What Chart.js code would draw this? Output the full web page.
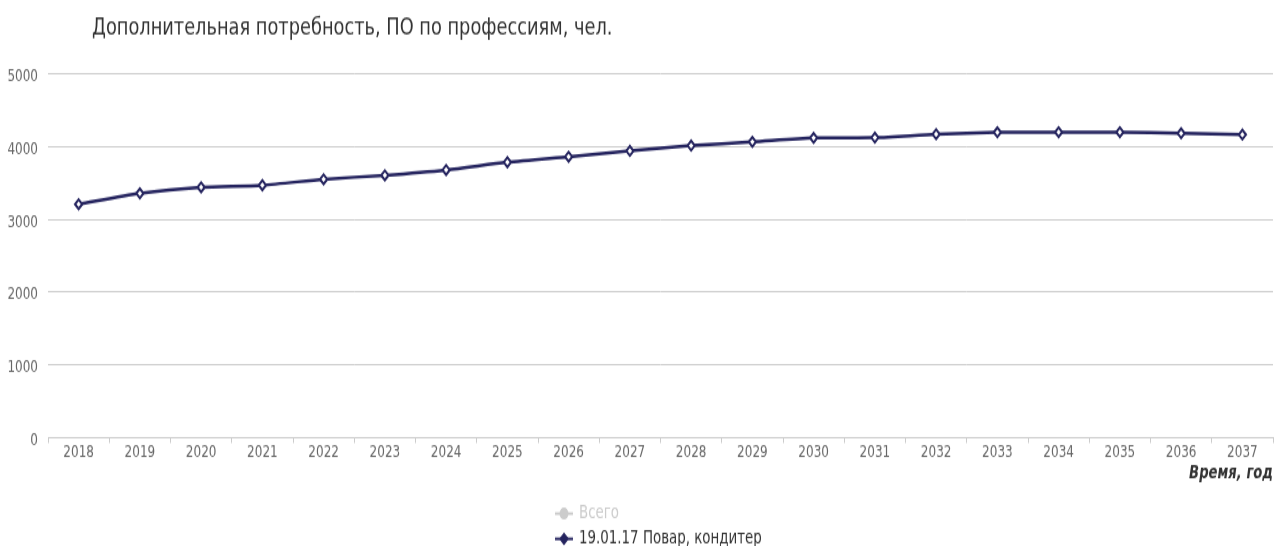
<!DOCTYPE html>
<html>
<head>
<meta charset="utf-8">
<style>
  html, body { margin: 0; padding: 0; background: #fff; overflow: hidden; }
</style>
<script src="https://cdn.jsdelivr.net/npm/chart.js@4"></script>
</head>
<body>
<!-- drawn at 411px high and stretched to 546px, like the reference screenshot -->
<canvas id="myChart" width="1279" height="411" style="width:1279px;height:546px"></canvas>
<script>
const titleText = 'Дополнительная потребность, ПО по профессиям, чел.';
const years = ['2018', '2019', '2020', '2021', '2022', '2023', '2024', '2025', '2026', '2027',
               '2028', '2029', '2030', '2031', '2032', '2033', '2034', '2035', '2036', '2037'];
const vsego = []; // series switched off in the legend, nothing drawn
const povar = [3207, 3356, 3440, 3469, 3551, 3606, 3679, 3785, 3862, 3941,
               4014, 4065, 4120, 4124, 4171, 4198, 4200, 4200, 4184, 4165];
const yTicks = [0, 1000, 2000, 3000, 4000, 5000];

const navy = '#25245f';
Chart.defaults.font.family = '"DejaVu Sans", sans-serif';

// title at the top left + vertical legend under the axis title
const extras = {
    id: 'extras',
    afterDraw(chart) {
        const ctx = chart.ctx;
        ctx.save();
        ctx.font = '17.8px "DejaVu Sans"';
        ctx.fillStyle = '#333';
        ctx.textAlign = 'left';
        ctx.textBaseline = 'middle';
        ctx.fillText(titleText, 92, 21);

        ctx.font = '13.4px "DejaVu Sans"';
        chart.data.datasets.forEach((ds, i) => {
            const y = 386.6 + i * 19;
            const col = ds.hidden ? '#cccccc' : ds.borderColor;
            ctx.strokeStyle = col;
            ctx.lineWidth = 2;
            ctx.beginPath();
            ctx.moveTo(555, y);
            ctx.lineTo(573, y);
            ctx.stroke();
            ctx.fillStyle = col;
            Chart.helpers.drawPoint(ctx, {
                pointStyle: ds.pointStyle, radius: 3.5, rotation: 0, borderWidth: 1
            }, 564, y);
            ctx.fillStyle = ds.hidden ? '#cccccc' : '#333333';
            ctx.fillText(ds.label, 579, y);
        });
        ctx.restore();
    }
};

new Chart('myChart', {
    type: 'line',
    data: {
        labels: years,
        datasets: [
            {
                label: 'Всего',
                data: vsego,
                hidden: true,
                borderColor: '#7cb5ec',
                pointStyle: 'circle'
            },
            {
                label: '19.01.17 Повар, кондитер',
                data: povar,
                borderColor: navy,
                borderWidth: 2.5,
                tension: 0.25,
                pointStyle: 'rectRot',
                pointRadius: 3.6,
                pointBorderWidth: 2,
                pointBackgroundColor: '#fff',
                pointBorderColor: navy,
                fill: false
            }
        ]
    },
    options: {
        responsive: false,
        devicePixelRatio: 1,
        animation: false,
        layout: { padding: { top: 55.7, left: 0, right: 2, bottom: 46 } },
        plugins: {
            legend: { display: false },
            title: { display: false },
            tooltip: { enabled: false }
        },
        scales: {
            x: {
                offset: true,
                grid: { offset: true, drawOnChartArea: false, drawTicks: true, tickLength: 4.5, color: '#cccccc' },
                border: { display: true, color: '#cccccc' },
                ticks: { color: '#666666', font: { size: 12 }, padding: 0, maxRotation: 0, autoSkip: false },
                title: {
                    display: true,
                    text: 'Время, год',
                    align: 'end',
                    color: '#333333',
                    font: { size: 13.2, weight: 'bold', style: 'italic' },
                    padding: { top: 0, bottom: 0.5 }
                },
                afterFit: s => { s.height = 36; }
            },
            y: {
                min: 0,
                max: 5000,
                afterBuildTicks: s => { s.ticks = yTicks.map(v => ({ value: v })); },
                grid: { color: '#cccccc', drawTicks: false },
                border: { display: false },
                ticks: { color: '#666666', font: { size: 12 }, padding: 10, labelOffset: 2.6, callback: v => String(v) },
                afterFit: s => { s.width = 48; }
            }
        }
    },
    plugins: [extras]
});
</script>
</body>
</html>
